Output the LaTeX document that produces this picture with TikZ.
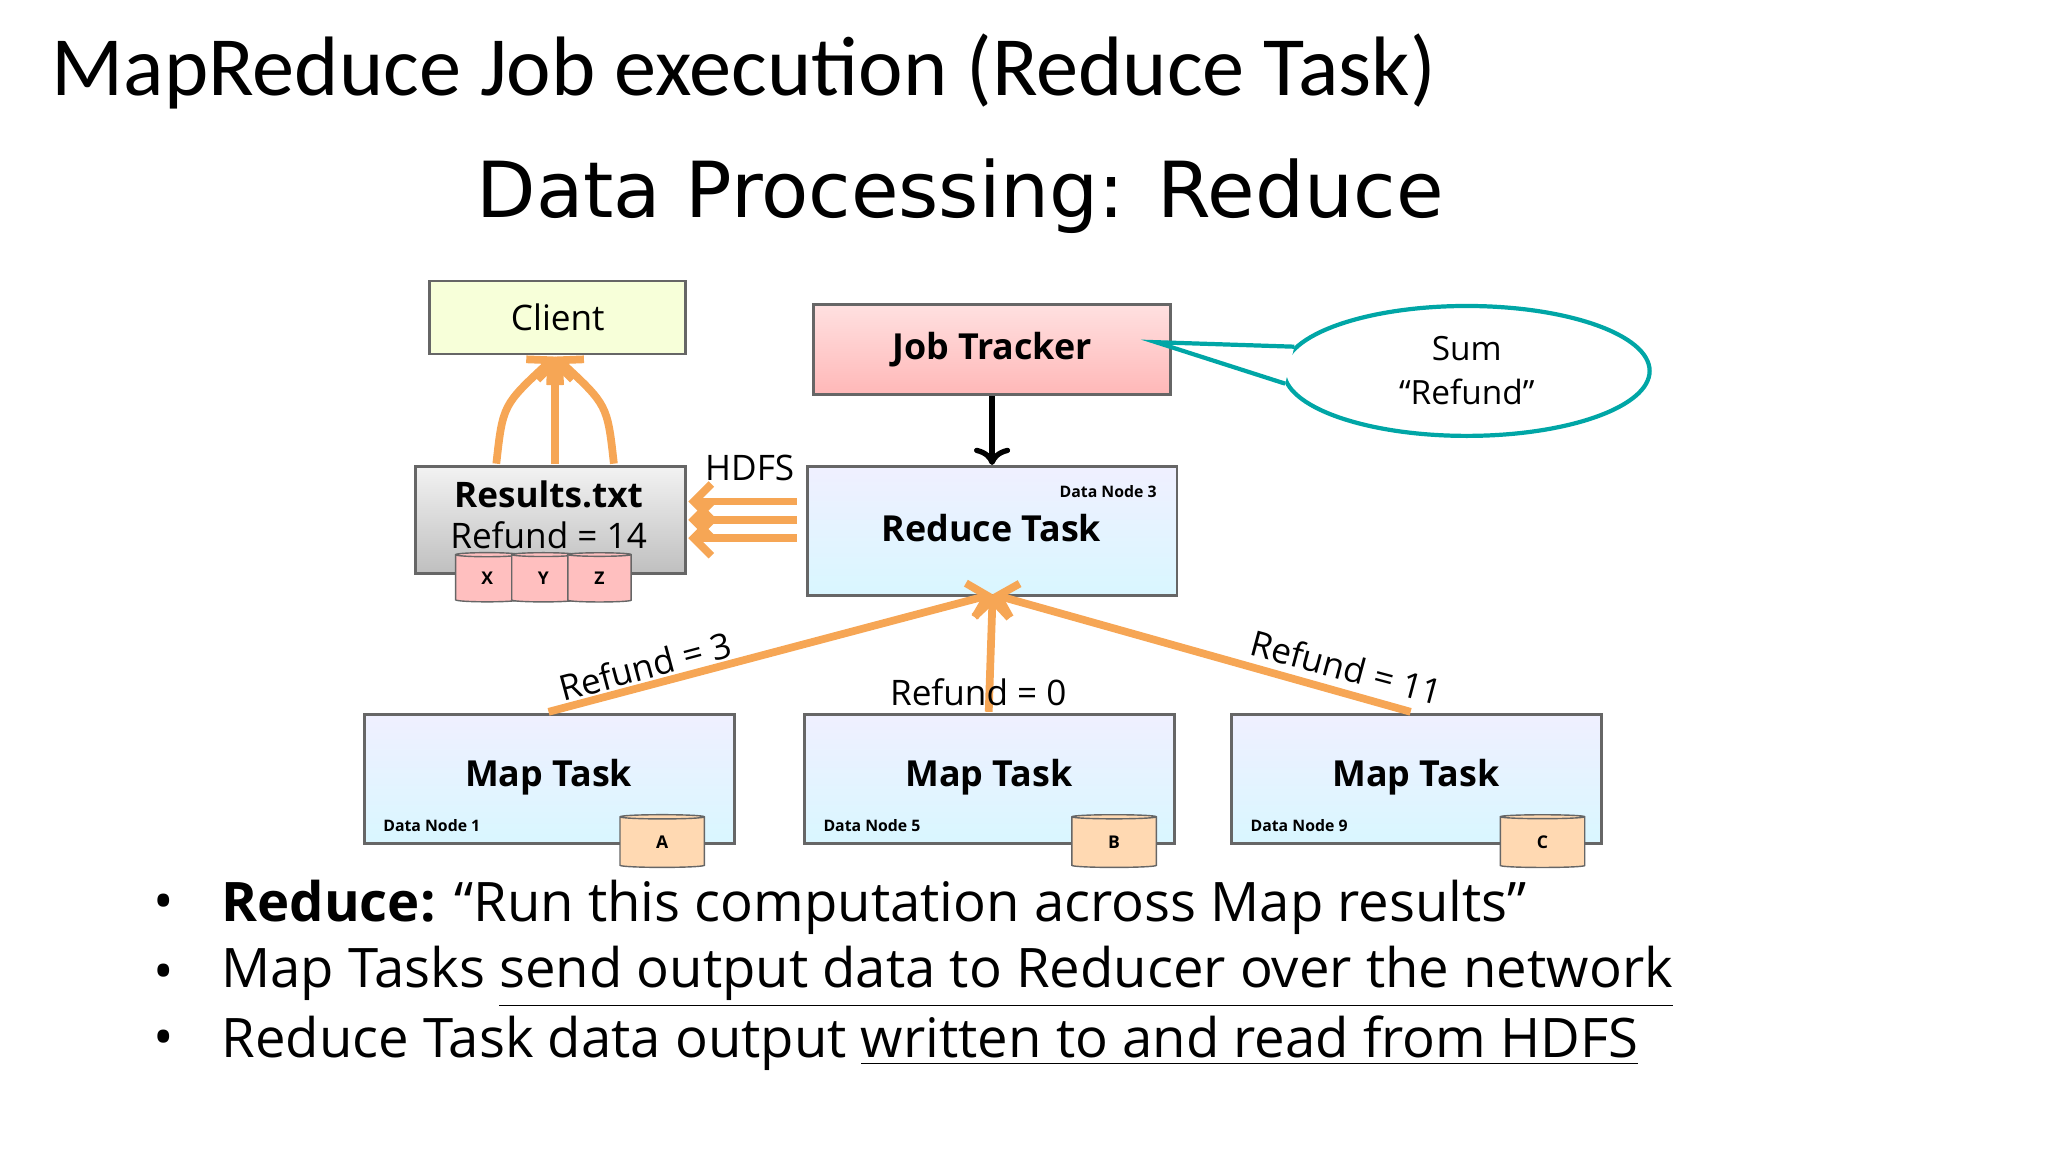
\documentclass[tikz,border=0pt]{standalone}
\usepackage{fontspec}
\setmainfont{Open Sans}
\newfontfamily\titlefont{Carlito}
\newfontfamily\subfont{DejaVu Sans}
\usetikzlibrary{shapes.geometric,arrows.meta}
\begin{document}
\begin{tikzpicture}[x=0.01306cm,y=-0.01306cm,
  box/.style={draw=black!60,line width=0.8pt,anchor=north west,inner sep=0},
  blu/.style={box,top color=blue!6,bottom color=blue!22!cyan!15},
  cyl/.style={cylinder,shape border rotate=90,draw=black!60,aspect=0.35,minimum width=18pt,minimum height=14pt,inner sep=0,font=\fontsize{5}{5}\selectfont\bfseries},
  oar/.style={draw=orange!80!brown!70,line width=2.2pt,-{Straight Barb[length=5pt]}},
  lbl/.style={font=\fontsize{10}{10}\selectfont},
  blbl/.style={font=\fontsize{10.2}{10}\selectfont\bfseries},
  small/.style={font=\fontsize{4.5}{5}\selectfont\bfseries}]
\useasboundingbox (0,0) rectangle (1568,882);
\node[anchor=west,font=\titlefont\fontsize{24}{26}\selectfont] (title) at (30,55) {MapReduce Job execution (Reduce Task)};
\node[font=\subfont\fontsize{22}{26}\selectfont] (sub) at (735,150) {Data Processing: Reduce};
% boxes
\node[box,fill=green!20!yellow!15,minimum width=196*0.01306cm,minimum height=56*0.01306cm] (client) at (328,214) {};
\node[lbl] at (client.center) {Client};
\node[box,top color=red!12,bottom color=red!28,minimum width=273*0.01306cm,minimum height=69*0.01306cm] (jt) at (622,232) {};
\node[blbl] at (jt.center) {Job Tracker};
\node[ellipse,draw=teal!70!cyan,line width=1.2pt,minimum width=280*0.01306cm,minimum height=78*0.01306cm,align=center,font=\fontsize{9.5}{12.5}\selectfont] (sum) at (1123,284) {Sum\\“Refund”};
\coordinate (jtp) at (885,262);
\draw[draw=teal!70!cyan,line width=1.2pt,fill=white] (sum.172) -- (jtp) -- (sum.184);
\node[blu,minimum width=283*0.01306cm,minimum height=99*0.01306cm] (rt) at (617,356) {};
\node[blbl] at (759,404) {Reduce Task};
\node[small,anchor=north east] at (895,362) {Data Node 3};
\node[box,top color=black!5,bottom color=black!25,minimum width=207*0.01306cm,minimum height=82*0.01306cm] (res) at (317,356) {};
\node[align=center,font=\fontsize{10}{11.5}\selectfont] at (420,394) {\textbf{Results.txt}\\Refund = 14};
\foreach \x/\l in {373/X,416/Y,459/Z}
  \node[cyl,fill=red!25] (c\l) at (\x,443) {\l};
\node[lbl] (hdfs) at (574,358) {HDFS};
\draw[->,line width=1.5pt] (jt.south) -- (rt.north);
\foreach \yy in {384,398,412}{
  \coordinate (a\yy) at (610,\yy); \coordinate (b\yy) at (527,\yy);
  \draw[oar] (a\yy) -- (b\yy);}
\coordinate (r1) at (380,355);\coordinate (r2) at (425,355);\coordinate (r3) at (470,355);
\coordinate (cl) at (425,273);
\draw[oar] (r1) .. controls (385,310) .. (cl);
\draw[oar] (r2) -- (cl);
\draw[oar] (r3) .. controls (465,310) .. (cl);
% maps
\foreach \x/\n/\c/\cx/\m in {278/1/A/507/m1,615/5/B/853/m2,942/9/C/1181/m3}{
  \node[blu,minimum width=283*0.01306cm,minimum height=99*0.01306cm] (\m) at (\x,546) {};
  \node[blbl] at (\x+142,595) {Map Task};
  \node[small,anchor=west] at (\x+6,632) {Data Node \n};
  \node[cyl,fill=orange!30,minimum width=24pt,minimum height=15pt] at (\cx,645) {\c};
}
\coordinate (rb) at (760,455);
\coordinate (p1) at (420,545);\coordinate (p2) at (757,545);\coordinate (p3) at (1080,545);
\draw[oar] (p1) -- (rb);
\draw[oar] (p2) -- (rb);
\draw[oar] (p3) -- (rb);
\node[lbl,rotate=15] at (494,510) {Refund = 3};
\node[lbl] at (749,530) {Refund = 0};
\node[lbl,rotate=-15] at (1031,511) {Refund = 11};
% bullets
\foreach \yy/\t in {695/{\textbf{Reduce:} “Run this computation across Map results”},
  748/{Map Tasks \underline{send output data to Reducer over the network}},
  799/{Reduce Task data output \underline{written to and read from HDFS}}}{
  \node[font=\fontsize{15.5}{17}\selectfont] at (125,\yy) {•};
  \node[anchor=west,font=\fontsize{15.5}{17}\selectfont] at (160,\yy) {\t};
}
\end{tikzpicture}
\end{document}
